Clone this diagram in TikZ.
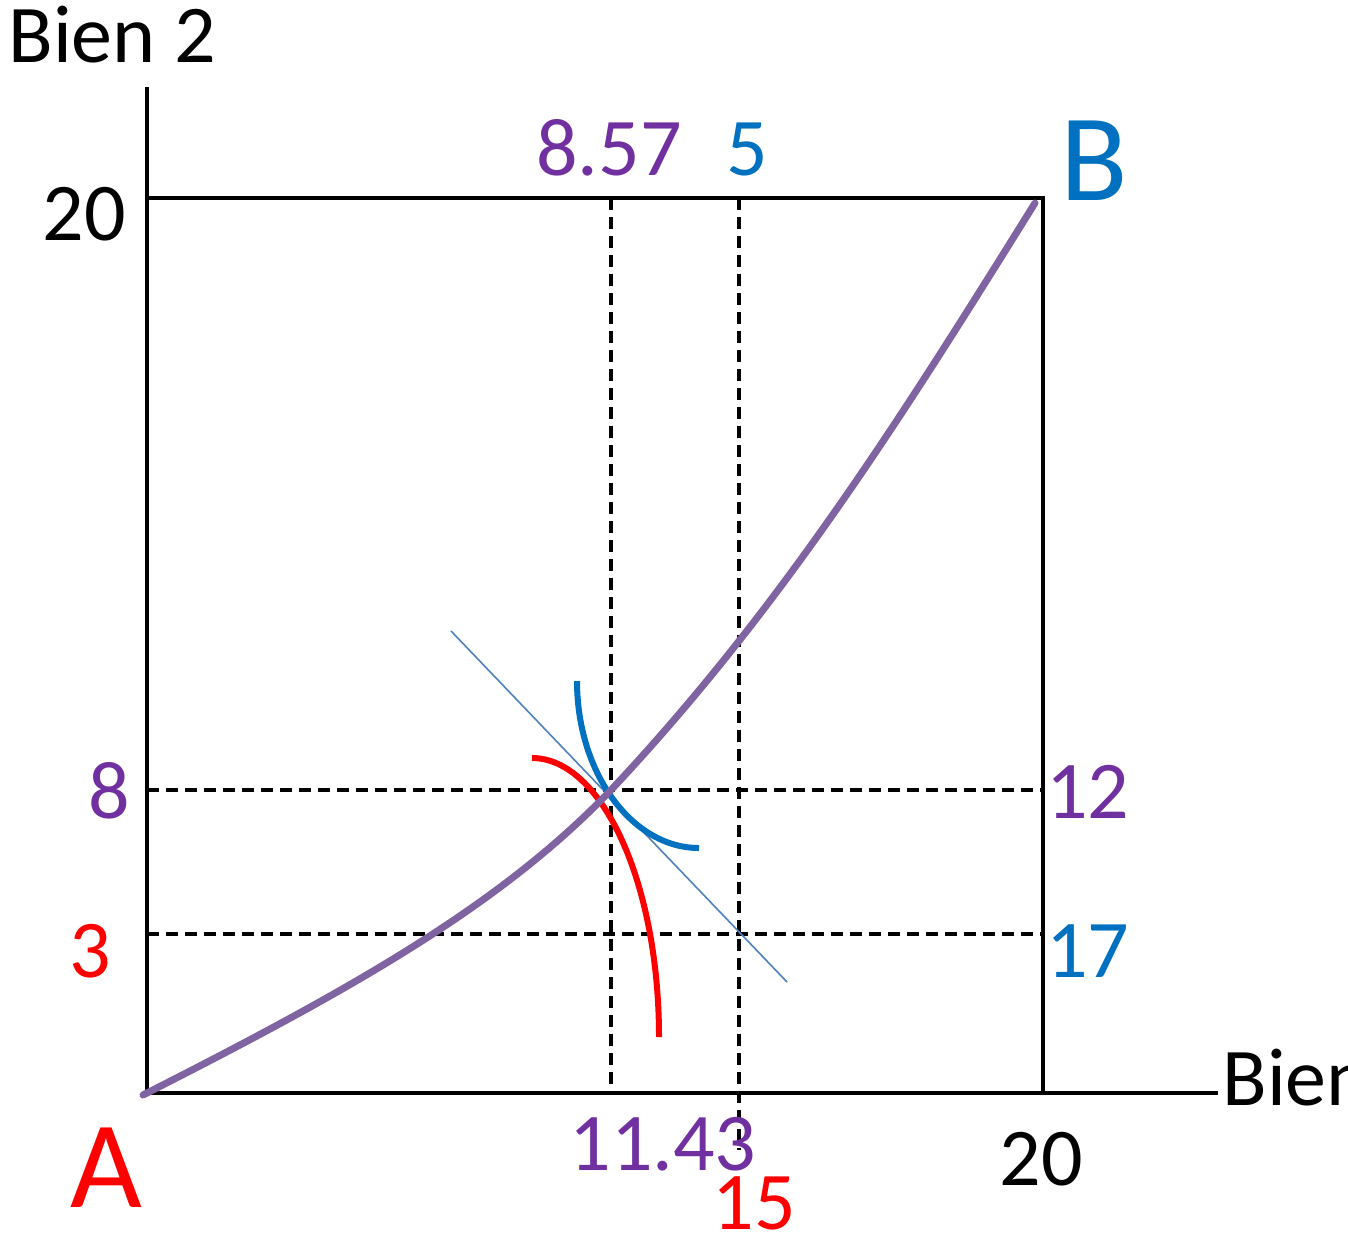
\documentclass[tikz,border=0pt]{standalone}
\usepackage{fontspec}
\setmainfont{Carlito}
\definecolor{lilas}{HTML}{7030A0}
\definecolor{courbe}{HTML}{8064A2}
\definecolor{bleu}{HTML}{0070C0}
\definecolor{tangente}{HTML}{4F81BD}
\definecolor{rouge}{HTML}{FF0000}
\begin{document}
\begin{tikzpicture}[x=0.5pt, y=-0.5pt, every node/.style={inner sep=0pt, font=\fontsize{41}{41}\selectfont},
    axe/.style={line width=1.75pt, black},
    repere/.style={line width=1.75pt, black, dash pattern=on 6pt off 3.5pt},
    grand/.style={font=\fontsize{62}{62}\selectfont}]
        \useasboundingbox (0,0) rectangle (1348,1236);
        % Corners of the box
            \coordinate (A)  at (147,1093);
            \coordinate (B)  at (1043,198);
            \coordinate (hg) at (147,198);
            \coordinate (bd) at (1043,1093);
            \coordinate (ytop) at (147,87);
            \coordinate (xend) at (1218,1093);
        % Feet of the dashed lines
            \coordinate (v1h) at (611,198);   \coordinate (v1b) at (611,1093);
            \coordinate (v2h) at (739,198);   \coordinate (v2b) at (739,1150);
            \coordinate (h1g) at (147,790);   \coordinate (h1d) at (1043,790);
            \coordinate (h2g) at (147,934);   \coordinate (h2d) at (1043,934);
        % Dashed lines
            \draw[repere] (v1h) -- (v1b);
            \draw[repere] (v2h) -- (v2b);
            \draw[repere] (h1g) -- (h1d);
            \draw[repere] (h2g) -- (h2d);
        % Axes and box
            \draw[axe] (ytop) -- (A) -- (xend);
            \draw[axe] (hg) -- (B) -- (bd);
        % Tangent (price line)
            \coordinate (t1) at (451,631);
            \coordinate (t2) at (787,982);
            \draw[line width=0.8pt, tangente] (t1) -- (t2);
        % Indifference curves
            \coordinate (r1) at (532,758);
            \coordinate (r2) at (659,1037);
            \draw[line width=3pt, rouge] (r1) .. controls (602,758) and (659,883) .. (r2);
            \coordinate (b1) at (577,681);
            \coordinate (b2) at (699,848);
            \draw[line width=3pt, bleu] (b1) .. controls (577,773) and (632,848) .. (b2);
        % Contract curve
            \coordinate (E) at (611,790);
            \coordinate (Bc) at (1035,203);
            \draw[line width=3.5pt, courbe, line cap=round] (143,1095) .. controls (350,990) and (500,906) .. (E)
                .. controls (780,610) and (900,420) .. (Bc);
        % Labels
            \node[anchor=base west] (bien2) at (8,63) {Bien 2};
            \node[anchor=base west] (bien1) at (1222,1105) {Bien 1};
            \node[anchor=base east] (y20) at (126,240) {20};
            \node[anchor=base] (x20) at (1041,1185) {20};
            \node[anchor=base, lilas] (x857) at (609,175) {8.57};
            \node[anchor=base, bleu] (x5) at (747,175) {5};
            \node[anchor=base, lilas] (x1143) at (663,1170) {11.43};
            \node[anchor=base, rouge] (x15) at (754,1229) {15};
            \node[anchor=base east, lilas] (y8) at (130,818) {8};
            \node[anchor=base east, rouge] (y3) at (111,977) {3};
            \node[anchor=base west, lilas] (y12) at (1046,818) {12};
            \node[anchor=base west, bleu] (y17) at (1046,977) {17};
            \node[grand, anchor=base west, bleu] (nB) at (1060,200) {B};
            \node[grand, anchor=base, rouge] (nA) at (106,1207) {A};
\end{tikzpicture}
\end{document}
